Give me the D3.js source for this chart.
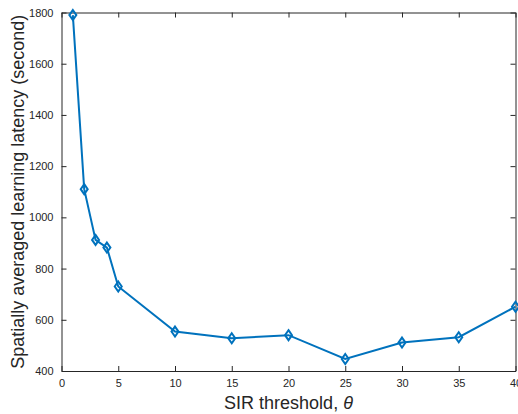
<!DOCTYPE html>
<html>
<head>
<meta charset="utf-8">
<script src="https://cdn.jsdelivr.net/npm/d3@7"></script>
<style>
  body { margin: 0; background: #fff; }
  text { font-family: "Liberation Sans", Arial, sans-serif; fill: #262626; }
</style>
</head>
<body>
<div id="chart"></div>
<script>
var svgWidth = 518;
var svgHeight = 414;
var margin = { top: 12.5, right: 2.5, bottom: 43, left: 61.5 };
var width = svgWidth - margin.left - margin.right;
var height = svgHeight - margin.top - margin.bottom;

// data
var thresholds = [1, 2, 3, 4, 5, 10, 15, 20, 25, 30, 35, 40];
var latency = [1790, 1110, 912, 882, 730, 554, 528, 540, 447, 511, 532, 651];
var xTicks = [0, 5, 10, 15, 20, 25, 30, 35, 40];
var yTicks = [400, 600, 800, 1000, 1200, 1400, 1600, 1800];

var svg = d3.select("#chart").append("svg")
  .attr("width", svgWidth)
  .attr("height", svgHeight);

var chartGroup = svg.append("g")
  .attr("transform", `translate(${margin.left}, ${margin.top})`);

var x = d3.scaleLinear().domain([0, 40]).range([0, width]);
var y = d3.scaleLinear().domain([400, 1800]).range([height, 0]);

// axes, ticks pointing inward like matlab
function styleAxis(g) {
  g.selectAll("path").attr("stroke", "#262626").attr("stroke-width", 1);
  g.selectAll("line").attr("stroke", "#262626");
  g.selectAll("text").attr("font-size", "11px").attr("fill", "#262626");
}

chartGroup.append("g")
  .attr("transform", `translate(0, ${height})`)
  .call(d3.axisBottom(x).tickValues(xTicks).tickSizeInner(-5).tickSizeOuter(0).tickPadding(8).tickFormat(d3.format("d")))
  .call(styleAxis);

chartGroup.append("g")
  .call(d3.axisLeft(y).tickValues(yTicks).tickSizeInner(-5).tickSizeOuter(0).tickPadding(8).tickFormat(d3.format("d")))
  .call(styleAxis);

chartGroup.append("g")
  .call(d3.axisTop(x).tickValues(xTicks).tickSizeInner(-5).tickSizeOuter(0).tickFormat(""))
  .call(styleAxis);

chartGroup.append("g")
  .attr("transform", `translate(${width}, 0)`)
  .call(d3.axisRight(y).tickValues(yTicks).tickSizeInner(-5).tickSizeOuter(0).tickFormat(""))
  .call(styleAxis);

// the line
var line = d3.line()
  .x((d, i) => x(thresholds[i]))
  .y(d => y(d));

chartGroup.append("path")
  .datum(latency)
  .attr("fill", "none")
  .attr("stroke", "#0072BD")
  .attr("stroke-width", 2)
  .attr("d", line);

// diamond markers
chartGroup.selectAll(".marker")
  .data(latency)
  .enter()
  .append("path")
  .attr("class", "marker")
  .attr("transform", (d, i) => `translate(${x(thresholds[i])}, ${y(d)})`)
  .attr("d", "M0,-5L3.5,0L0,5L-3.5,0Z")
  .attr("fill", "none")
  .attr("stroke", "#0072BD")
  .attr("stroke-width", 2);

// labels
svg.append("text")
  .attr("x", margin.left + width / 2)
  .attr("y", 409)
  .attr("text-anchor", "middle")
  .attr("font-size", "18px")
  .html('SIR threshold, <tspan font-style="italic">θ</tspan>');

svg.append("text")
  .attr("transform", `translate(24, ${margin.top + height / 2}) rotate(-90)`)
  .attr("text-anchor", "middle")
  .attr("font-size", "18px")
  .text("Spatially averaged learning latency (second)");
</script>
</body>
</html>
